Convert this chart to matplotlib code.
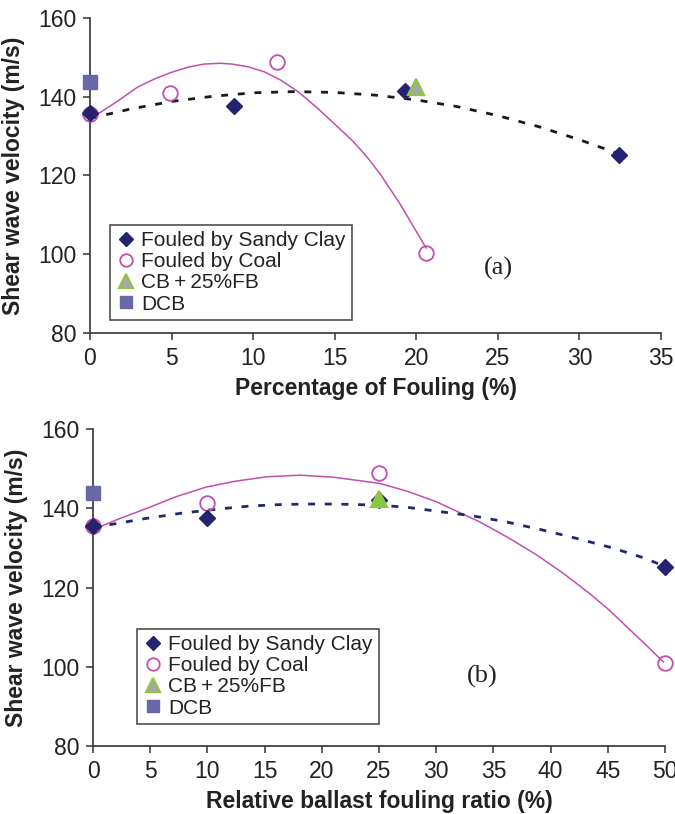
import matplotlib
matplotlib.use("Agg")
import matplotlib.pyplot as plt
from matplotlib.lines import Line2D

# ---------------- data (panel a) ----------------
a_clay_x = [0, 8.8, 19.3, 32.45]
a_clay_y = [135.8, 137.6, 141.5, 125.3]
a_coal_x = [0, 4.9, 11.45, 20.6]
a_coal_y = [135.6, 141.0, 148.8, 100.4]
a_cb_x = [20.0]
a_cb_y = [142.6]
a_dcb_x = [0]
a_dcb_y = [143.8]
# trend lines
a_clay_trend_x = [0, 2.5, 5, 7.5, 10, 12.5, 15, 17.5, 20, 22.5, 25, 27.5, 30, 32.4]
a_clay_trend_y = [134.5, 136.9, 138.8, 140.1, 141.0, 141.3, 141.1, 140.4, 139.2, 137.5, 135.2, 132.4, 129.1, 125.5]
a_coal_trend_x = [0, 1.7, 2.9, 4.0, 5.0, 6.0, 7.0, 8.0, 8.7, 9.7, 10.7, 11.7, 12.75, 14.0, 15.4, 16.1, 17.0, 17.8, 19.0, 20.6]
a_coal_trend_y = [134.3, 138.9, 142.4, 144.6, 146.2, 147.5, 148.3, 148.5, 148.3, 147.6, 146.3, 144.2, 141.3, 136.9, 131.5, 128.8, 124.6, 120.3, 112.8, 101.6]

# ---------------- data (panel b) ----------------
b_clay_x = [0, 10, 25, 50]
b_clay_y = [135.5, 137.5, 142.0, 125.3]
b_coal_x = [0, 10, 25, 50]
b_coal_y = [135.5, 141.3, 148.9, 100.8]
b_cb_x = [25]
b_cb_y = [142.4]
b_dcb_x = [0]
b_dcb_y = [143.8]
b_clay_trend_x = [0, 1.5, 4.7, 7.75, 10.8, 13.7, 16.6, 19.0, 21, 22.75, 25, 27.4, 30.3, 33.2, 36.1, 39.2, 42.3, 45.3, 48.25, 50]
b_clay_trend_y = [135.2, 135.9, 137.5, 138.8, 139.8, 140.6, 141.0, 141.1, 141.1, 141.0, 140.8, 140.3, 139.2, 138.1, 136.6, 134.6, 132.4, 130.1, 127.4, 125.3]
b_coal_trend_x = [0, 2.3, 4.7, 7.3, 9.9, 12.5, 15.2, 18.1, 21, 25.1, 27.5, 30.0, 33.8, 36.3, 38.8, 41.1, 43.4, 45.2, 46.9, 48.4, 49.85]
b_coal_trend_y = [134.6, 137.4, 140.0, 143.0, 145.4, 146.9, 148.0, 148.4, 147.9, 146.3, 144.3, 141.7, 136.6, 132.6, 128.2, 123.6, 118.5, 114.1, 109.4, 105.3, 101.2]

legend_labels = ["Fouled by Sandy Clay", "Fouled by Coal", "CB\u2009+\u200925%FB", "DCB"]
y_ticks = [80, 100, 120, 140, 160]
a_xticks = [0, 5, 10, 15, 20, 25, 30, 35]
b_xticks = [0, 5, 10, 15, 20, 25, 30, 35, 40, 45, 50]

# ---------------- style ----------------
NAVY = "#23236f"
MAG = "#c24fae"
GREEN = "#8dc63f"
GRAY = "#a6a6a6"
DCBC = "#6868a6"
SPINE = "#333333"

plt.rcParams["font.family"] = ["Liberation Sans", "DejaVu Sans"]

fig = plt.figure(figsize=(6.75, 8.14), dpi=100)
ax1 = fig.add_axes([0.1333, 0.5909, 0.846, 0.387])
ax2 = fig.add_axes([0.1378, 0.0839, 0.8474, 0.3887])

dash = (0, (2.5, 3.5))


def style_axes(ax, xticks, xlim, xlabel):
    ax.set_xlim(*xlim)
    ax.set_ylim(80, 160)
    ax.set_xticks(xticks)
    ax.set_yticks(y_ticks)
    for s in ["top", "right"]:
        ax.spines[s].set_visible(False)
    for s in ["left", "bottom"]:
        ax.spines[s].set_color(SPINE)
        ax.spines[s].set_linewidth(1.2)
    ax.tick_params(direction="out", length=5, width=1.1, color=SPINE,
                   labelsize=16.5, labelcolor="#222222", pad=5)
    ax.set_xlabel(xlabel, fontsize=16.5, fontweight="bold", color="#222222", labelpad=5)
    ax.set_ylabel("Shear wave velocity (m/s)", fontsize=16.5, fontweight="bold",
                  color="#222222", labelpad=9)


def draw(ax, clay_x, clay_y, coal_x, coal_y, cb_x, cb_y, dcb_x, dcb_y,
         ctx, cty, otx, oty, trend_col, cb_face):
    ax.plot(otx, oty, color=MAG, lw=1.1, zorder=2)
    ax.plot(ctx, cty, color=trend_col, lw=2.0, linestyle=dash, zorder=2)
    ax.plot(dcb_x, dcb_y, "s", ms=9.5, color=DCBC, mec=DCBC, clip_on=False, zorder=4)
    ax.plot(coal_x, coal_y, "o", ms=10.5, mfc="none", mec=MAG, mew=1.3, clip_on=False, zorder=4)
    ax.plot(clay_x, clay_y, "D", ms=8.3, color=NAVY, mec=NAVY, clip_on=False, zorder=5)
    ax.plot(cb_x, cb_y, "^", ms=11, mfc=cb_face, mec=GREEN, mew=1.6, clip_on=False, zorder=6)


style_axes(ax1, a_xticks, (0, 35), "Percentage of Fouling (%)")
style_axes(ax2, b_xticks, (0, 50), "Relative ballast fouling ratio (%)")

draw(ax1, a_clay_x, a_clay_y, a_coal_x, a_coal_y, a_cb_x, a_cb_y, a_dcb_x, a_dcb_y,
     a_clay_trend_x, a_clay_trend_y, a_coal_trend_x, a_coal_trend_y, "#1a1a1a", GRAY)
draw(ax2, b_clay_x, b_clay_y, b_coal_x, b_coal_y, b_cb_x, b_cb_y, b_dcb_x, b_dcb_y,
     b_clay_trend_x, b_clay_trend_y, b_coal_trend_x, b_coal_trend_y, "#1f2a6e", GREEN)

handles = [
    Line2D([], [], marker="D", ms=7.3, color=NAVY, ls="none"),
    Line2D([], [], marker="o", ms=9, mfc="none", mec=MAG, mew=1.3, ls="none"),
    Line2D([], [], marker="^", ms=10, mfc=GRAY, mec=GREEN, mew=1.5, ls="none"),
    Line2D([], [], marker="s", ms=9, color=DCBC, ls="none"),
]

for ax, anchor in [(ax1, (110 / 675, 1 - 225 / 814)), (ax2, (137 / 675, 1 - 629 / 814))]:
    leg = ax.legend(handles, legend_labels, loc="upper left", bbox_to_anchor=anchor,
                    bbox_transform=fig.transFigure, borderaxespad=0, fontsize=15,
                    frameon=True, fancybox=False, handlelength=0.9, handletextpad=0.3,
                    labelspacing=0.1, borderpad=0.3)
    leg.get_frame().set_edgecolor("#222222")
    leg.get_frame().set_linewidth(1.2)
    for t in leg.get_texts():
        t.set_color("#222222")

ax1.text(0.716, 0.206, "(a)", transform=ax1.transAxes, ha="center", va="center",
         fontsize=19, family=["Liberation Serif", "DejaVu Serif"], color="#222222")
ax2.text(0.68, 0.22, "(b)", transform=ax2.transAxes, ha="center", va="center",
         fontsize=19, family=["Liberation Serif", "DejaVu Serif"], color="#222222")

fig.savefig("out.png", dpi=100)
